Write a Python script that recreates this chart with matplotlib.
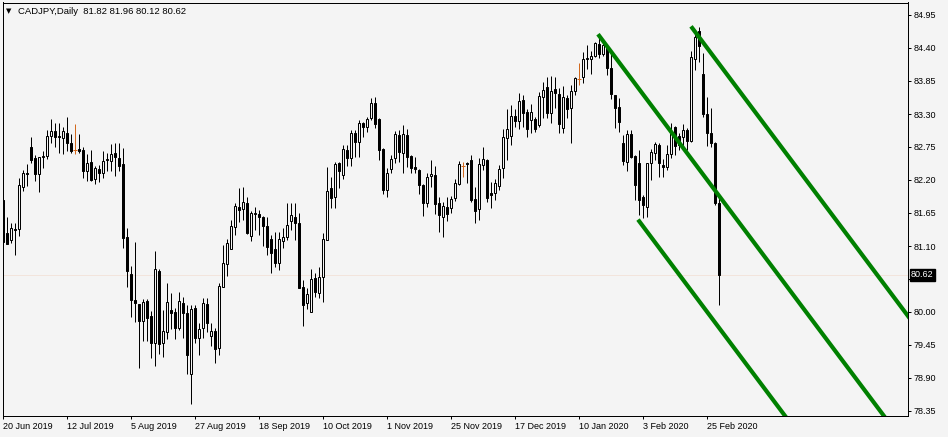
import matplotlib
matplotlib.use('Agg')
import matplotlib.pyplot as plt
from matplotlib.transforms import blended_transform_factory, offset_copy
import numpy as np

plt.rcParams['font.family'] = ['Liberation Sans', 'DejaVu Sans']

# ---------------- data (CADJPY daily, 20 Jun 2019 .. 28 Feb 2020) ----------------
opens = [81.87, 81.32, 81.20, 81.38, 81.38, 82.08, 82.32, 82.75, 82.57, 82.30,
         82.58, 82.60, 82.93, 83.02, 82.93, 82.90, 82.98, 82.82, 82.70, 82.72,
         82.70, 82.35, 82.50, 82.22, 82.38, 82.32, 82.53, 82.52, 82.65, 82.57,
         82.47, 81.25, 80.63, 80.20, 80.13, 79.85, 80.18, 79.93, 79.48, 80.68,
         79.48, 79.67, 80.03, 80.00, 79.73, 80.15, 79.98, 78.97, 80.07, 79.57,
         79.73, 80.13, 79.60, 79.68, 79.40, 80.42, 80.80, 81.05, 81.42, 81.75,
         81.72, 81.82, 81.27, 81.63, 81.63, 81.58, 81.43, 81.22, 81.05, 80.82,
         81.18, 81.25, 81.52, 81.58, 81.48, 80.42, 80.15, 80.00, 80.57, 80.32,
         80.58, 81.20, 82.07, 81.92, 82.48, 82.28, 82.70, 82.57, 82.98, 82.83,
         83.15, 83.08, 83.23, 83.48, 83.22, 82.72, 82.03, 82.38, 82.57, 82.95,
         82.65, 82.95, 82.60, 82.42, 82.37, 82.12, 81.82, 82.27, 82.28, 81.82,
         81.58, 81.75, 81.73, 81.90, 82.13, 82.43, 82.48, 82.53, 81.88, 81.72,
         82.45, 82.53, 81.98, 81.98, 82.10, 82.40, 82.90, 82.93, 83.27, 83.18,
         83.53, 83.33, 83.20, 83.22, 83.12, 83.58, 83.75, 83.32, 83.72, 83.63,
         83.07, 83.57, 83.40, 83.68, 83.88, 83.92, 84.21, 84.22, 84.27, 84.47,
         84.30, 84.42, 84.07, 83.62, 83.42, 82.82, 82.50, 82.97, 82.60, 82.48,
         81.92, 81.75, 82.48, 82.65, 82.78, 82.45, 82.42, 82.63, 83.08, 82.93,
         82.92, 83.03, 82.85, 84.22, 84.68, 83.97, 83.30, 82.98, 82.82, 81.82]

highs = [81.90, 81.58, 81.48, 81.48, 82.23, 82.37, 82.47, 82.92, 82.62, 82.58,
         82.68, 83.03, 83.22, 83.15, 83.15, 83.08, 83.25, 82.97, 83.13, 82.97,
         82.75, 82.63, 82.70, 82.43, 82.45, 82.68, 82.65, 82.80, 82.82, 82.82,
         82.73, 81.40, 80.77, 81.17, 80.13, 80.22, 80.22, 80.02, 81.02, 80.72,
         80.03, 80.48, 80.32, 80.07, 80.33, 80.25, 80.12, 80.12, 80.12, 79.82,
         80.23, 80.23, 79.82, 79.73, 80.48, 81.12, 81.22, 81.53, 81.82, 82.07,
         82.08, 81.92, 81.68, 81.75, 81.70, 81.60, 81.58, 81.28, 81.33, 81.33,
         81.40, 81.82, 81.82, 81.82, 81.65, 80.53, 80.40, 80.72, 80.65, 80.75,
         81.32, 82.42, 82.25, 82.50, 82.50, 82.78, 82.78, 83.03, 83.03, 83.20,
         83.17, 83.25, 83.57, 83.58, 83.23, 82.73, 82.40, 82.62, 83.02, 83.03,
         83.12, 83.05, 82.62, 82.58, 82.38, 82.13, 82.32, 82.53, 82.43, 81.92,
         81.83, 81.92, 81.93, 82.22, 82.52, 82.50, 82.50, 82.62, 82.08, 82.57,
         82.75, 82.55, 82.17, 82.22, 82.45, 83.05, 83.38, 83.45, 83.38, 83.65,
         83.62, 83.38, 83.47, 83.25, 83.67, 83.83, 83.92, 83.93, 83.92, 83.73,
         83.77, 83.62, 83.78, 83.92, 84.15, 84.33, 84.45, 84.35, 84.50, 84.62,
         84.50, 84.45, 84.32, 83.62, 83.57, 82.95, 83.03, 83.03, 82.62, 82.70,
         81.95, 82.48, 82.72, 82.83, 82.82, 82.55, 82.78, 83.15, 83.10, 82.98,
         83.13, 83.07, 84.35, 84.67, 84.75, 84.32, 83.58, 83.40, 82.83, 81.96]

lows = [81.03, 81.13, 81.15, 80.95, 81.27, 82.02, 82.10, 82.48, 82.18, 82.00,
        82.40, 82.55, 82.82, 82.75, 82.65, 82.63, 82.68, 82.65, 82.63, 82.65,
        82.23, 82.18, 82.18, 82.13, 82.17, 82.23, 82.35, 82.35, 82.27, 82.35,
        81.07, 80.42, 79.92, 79.83, 79.07, 79.52, 79.52, 79.23, 79.10, 79.30,
        79.25, 79.55, 79.72, 79.55, 79.70, 79.57, 78.97, 78.47, 79.48, 79.28,
        79.57, 79.67, 79.43, 79.15, 79.28, 80.42, 80.60, 81.05, 81.28, 81.50,
        81.53, 81.30, 81.18, 81.37, 81.28, 81.10, 80.95, 80.65, 80.75, 80.70,
        81.07, 81.20, 81.37, 81.20, 80.40, 79.77, 80.05, 80.00, 80.25, 80.23,
        80.17, 81.20, 81.73, 81.73, 82.07, 82.22, 82.43, 82.43, 82.58, 82.58,
        82.92, 83.00, 83.20, 83.07, 82.53, 81.97, 81.92, 82.32, 82.48, 82.50,
        82.32, 82.42, 82.32, 82.32, 81.97, 81.60, 81.75, 82.08, 81.63, 81.33,
        81.25, 81.52, 81.65, 81.85, 82.12, 82.25, 82.15, 81.83, 81.48, 81.53,
        82.37, 81.83, 81.73, 81.87, 82.03, 82.23, 82.53, 82.78, 83.08, 83.05,
        83.08, 82.92, 82.98, 83.00, 83.08, 83.23, 83.23, 83.15, 83.40, 82.98,
        82.98, 83.23, 82.82, 83.62, 83.78, 83.82, 84.05, 83.97, 84.25, 84.23,
        84.27, 83.95, 83.55, 83.07, 83.00, 82.45, 82.35, 82.57, 81.87, 81.62,
        81.57, 81.58, 82.20, 82.53, 82.25, 82.25, 82.37, 82.57, 82.62, 82.70,
        82.73, 82.70, 82.83, 84.03, 84.17, 83.25, 82.77, 82.75, 81.78, 80.12]

closes = [81.17, 81.13, 81.40, 81.37, 82.12, 82.32, 82.30, 82.53, 82.30, 82.58,
          82.60, 82.93, 83.02, 82.92, 82.92, 83.02, 82.82, 82.68, 82.70, 82.68,
          82.35, 82.48, 82.20, 82.40, 82.32, 82.52, 82.55, 82.63, 82.58, 82.43,
          81.23, 80.68, 80.20, 80.15, 79.85, 80.17, 79.90, 79.48, 80.72, 79.47,
          79.68, 80.17, 79.98, 79.73, 80.18, 79.98, 79.28, 80.05, 79.57, 79.72,
          80.15, 79.82, 79.68, 79.38, 80.43, 80.82, 81.15, 81.43, 81.77, 81.70,
          81.83, 81.32, 81.65, 81.65, 81.58, 81.43, 81.08, 80.98, 80.82, 81.22,
          81.25, 81.45, 81.62, 81.48, 80.40, 80.12, 80.30, 80.55, 80.33, 80.58,
          81.22, 82.02, 81.90, 82.47, 82.35, 82.72, 82.57, 82.98, 82.83, 83.15,
          83.08, 83.22, 83.48, 83.13, 82.70, 82.03, 82.32, 82.55, 82.97, 82.67,
          82.97, 82.58, 82.40, 82.38, 82.12, 81.82, 82.25, 82.30, 81.80, 81.62,
          81.77, 81.63, 81.88, 82.15, 82.47, 82.43, 82.46, 81.87, 81.68, 82.47,
          82.55, 81.90, 81.95, 82.15, 82.38, 82.92, 83.05, 83.27, 83.18, 83.52,
          83.32, 83.05, 83.33, 83.05, 83.60, 83.70, 83.32, 83.68, 83.65, 83.13,
          83.58, 83.38, 83.68, 83.90, 83.88, 84.22, 84.23, 84.27, 84.48, 84.30,
          84.45, 84.07, 83.63, 83.40, 83.17, 82.52, 82.97, 82.58, 82.12, 81.87,
          81.78, 82.48, 82.67, 82.80, 82.48, 82.42, 82.63, 83.00, 82.77, 82.78,
          83.03, 82.85, 84.25, 84.58, 84.43, 83.30, 82.98, 82.82, 81.82, 80.62]

date_tick_bars = [0, 16, 32, 48, 64, 80, 96, 112, 128, 144, 160, 176]
date_tick_labels = ['20 Jun 2019', '12 Jul 2019', '5 Aug 2019', '27 Aug 2019',
                    '18 Sep 2019', '10 Oct 2019', '1 Nov 2019', '25 Nov 2019',
                    '17 Dec 2019', '10 Jan 2020', '3 Feb 2020', '25 Feb 2020']
price_ticks = [78.35, 78.90, 79.45, 80.00, 80.55, 81.10, 81.65, 82.20,
               82.75, 83.30, 83.85, 84.40, 84.95]

header_symbol = 'CADJPY,Daily'
last_price = 80.62

# equidistant channel (anchor bar, anchor price, slope per bar, half width)
channel_anchor_bar = 148.75
channel_anchor_price = 84.63
channel_slope = -0.089
channel_half_width = 2.20
channel_start_bars = [172.0, 148.75, 158.75]   # upper, middle, lower
channel_offsets = [1, 0, -1]

# ---------------- figure ----------------
BG = '#F4F4F4'
W, H = 948, 437
DPI = 100
PX = 72.0 / DPI  # one pixel in points
fig = plt.figure(figsize=(W / DPI, H / DPI), dpi=DPI, facecolor=BG)
ax = fig.add_axes([2.5 / W, (H - 416) / H, (908 - 2.5) / W, (416 - 2.5) / H])
ax.set_facecolor(BG)

o = np.array(opens); h = np.array(highs); l = np.array(lows); c = np.array(closes)
x = np.arange(len(o))
up = c > o
down = c < o
doji = c == o
DOJI_COL = '#D2691E'

wick_cols = ['black' if not d else DOJI_COL for d in doji]
ax.vlines(x, l, h, colors=wick_cols, linewidth=PX, zorder=2)

bw = 0.5
ax.bar(x[up], (c - o)[up], bottom=o[up], width=bw, facecolor=BG, edgecolor='black',
       linewidth=PX, zorder=3)
ax.bar(x[down], (o - c)[down], bottom=c[down], width=bw, facecolor='black', edgecolor='black',
       linewidth=PX, zorder=3)
ax.hlines(o[doji], x[doji] - 0.4, x[doji] + 0.4, colors=DOJI_COL, linewidth=PX, zorder=3)

# bid line
ax.axhline(last_price, color='#F2E4DC', linewidth=PX, zorder=1)

# channel
x_end = 240
for sb, off in zip(channel_start_bars, channel_offsets):
    p0 = channel_anchor_price + channel_slope * (sb - channel_anchor_bar) + off * channel_half_width
    p1 = channel_anchor_price + channel_slope * (x_end - channel_anchor_bar) + off * channel_half_width
    ax.plot([sb, x_end], [p0, p1], color='#008000', linewidth=3.0, solid_capstyle='butt', zorder=5)

# limits: 4 px per bar
ax.set_xlim(-0.125, (908 - 3) / 4)
ax.set_ylim(84.95 - (416 - 15) / 60, 84.95 + (15 - 2.5) / 60)

for sp in ax.spines.values():
    sp.set_color('black')
    sp.set_linewidth(PX)

ax.yaxis.tick_right()
ax.set_yticks(price_ticks)
ax.set_yticklabels([f'{v:.2f}' for v in price_ticks])
ax.tick_params(axis='y', direction='out', length=2.5, width=PX, pad=1.5,
               labelsize=6.5, colors='black')
ax.set_xticks(date_tick_bars)
ax.set_xticklabels(date_tick_labels)
ax.tick_params(axis='x', direction='out', length=2.5, width=PX, pad=1.5,
               labelsize=6.5, colors='black')
for lab in ax.get_xticklabels():
    lab.set_ha('left')

# current price label (covers the 80.55 tick label, as in the terminal)
trans = offset_copy(blended_transform_factory(ax.transAxes, ax.transData), fig=fig, x=3, y=0, units='dots')
ax.text(1.0, last_price, f'{last_price:.2f}', transform=trans, ha='left', va='center',
        color='white', fontsize=6.5, zorder=20, clip_on=False,
        bbox=dict(facecolor='black', edgecolor='black', boxstyle='square,pad=0.15'))

# header
fig.text(6 / W, 1 - 11 / H, '\u25BC', fontsize=5, va='center', ha='left', color='black',
         family=['DejaVu Sans'])
fig.text(18 / W, 1 - 11 / H,
         f'{header_symbol}  {opens[-1]:.2f} {highs[-1]:.2f} {lows[-1]:.2f} {closes[-1]:.2f}',
         fontsize=6.8, va='center', ha='left', color='black')

fig.savefig('out.png', dpi=DPI, facecolor=BG)
